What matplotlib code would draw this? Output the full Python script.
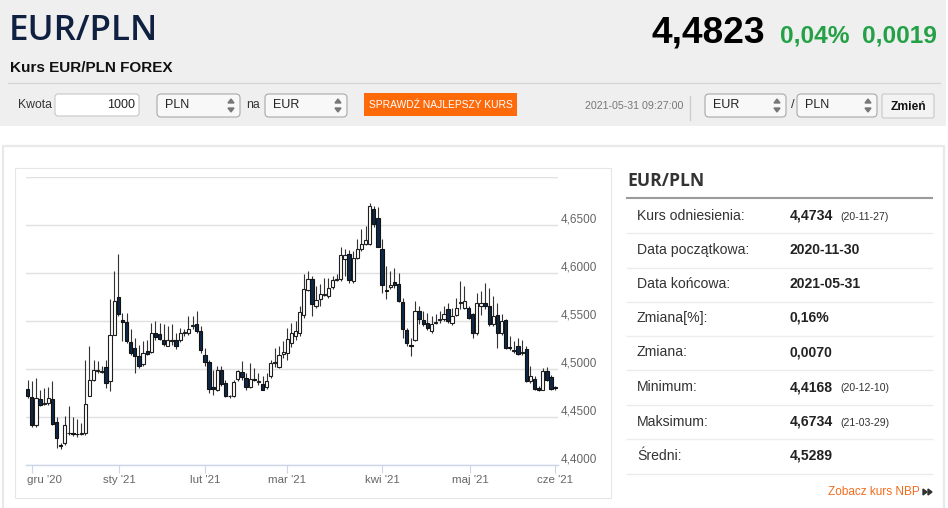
import matplotlib
matplotlib.use("Agg")
import matplotlib.pyplot as plt
import numpy as np
import pandas as pd
from matplotlib.patches import FancyBboxPatch, Rectangle, Polygon
from matplotlib.transforms import offset_copy

plt.rcParams['font.family'] = ['Liberation Sans', 'DejaVu Sans']

# ---- data -------------------------------------------------------------
holidays = ['2020-12-25', '2021-01-01']
days = pd.bdate_range('2020-11-30', '2021-05-31')
days = days[~days.isin(pd.to_datetime(holidays))]

opens = [
    4.4791, 4.4707, 4.4418, 4.4690, 4.4637, 4.4644, 4.4690, 4.4453, 4.4209, 4.4226,
    4.4331, 4.4331, 4.4324, 4.4324, 4.4331, 4.4721, 4.4882, 4.4976, 4.4972, 4.5021,
    4.4871, 4.5359, 4.5750, 4.5509, 4.5492, 4.5279, 4.5220, 4.5133, 4.5052, 4.5185,
    4.5174, 4.5377, 4.5366, 4.5307, 4.5244, 4.5290, 4.5297, 4.5307, 4.5370, 4.5377,
    4.5447, 4.5464, 4.5394, 4.5150, 4.5070, 4.4812, 4.4784, 4.4986, 4.4854, 4.4714,
    4.4721, 4.4896, 4.4969, 4.4906, 4.4812, 4.4899, 4.4861, 4.4847, 4.4808, 4.4924,
    4.5063, 4.5021, 4.5161, 4.5167, 4.5272, 4.5342, 4.5377, 4.5558, 4.5823, 4.5942,
    4.5656, 4.5725, 4.5771, 4.5760, 4.5854, 4.5928, 4.5935, 4.6144, 4.6196, 4.5917,
    4.6154, 4.6255, 4.6301, 4.6301, 4.6667, 4.6569, 4.6255, 4.5823, 4.5858, 4.5907,
    4.5882, 4.5698, 4.5405, 4.5255, 4.5307, 4.5603, 4.5506, 4.5481, 4.5394, 4.5474,
    4.5506, 4.5516, 4.5621, 4.5481, 4.5558, 4.5684, 4.5638, 4.5638, 4.5569, 4.5377,
    4.5656, 4.5691, 4.5656, 4.5464, 4.5558, 4.5377, 4.5506, 4.5227, 4.5192, 4.5237,
    4.5167, 4.5209, 4.4871, 4.4896, 4.4801, 4.4784, 4.4976, 4.4916, 4.4808]
highs = [
    4.4889, 4.4871, 4.4906, 4.4784, 4.4801, 4.4808, 4.4871, 4.4505, 4.4226, 4.4512,
    4.4610, 4.4505, 4.4477, 4.4435, 4.5098, 4.5237, 4.5098, 4.5080, 4.5028, 4.5098,
    4.5725, 4.6022, 4.6196, 4.5586, 4.5586, 4.5412, 4.5324, 4.5255, 4.5290, 4.5307,
    4.5481, 4.5499, 4.5481, 4.5464, 4.5447, 4.5464, 4.5377, 4.5429, 4.5412, 4.5551,
    4.5551, 4.5603, 4.5447, 4.5220, 4.5098, 4.4993, 4.5028, 4.5028, 4.4889, 4.4732,
    4.4889, 4.4993, 4.5080, 4.4958, 4.5063, 4.5011, 4.4958, 4.4924, 4.4958, 4.5098,
    4.5220, 4.5237, 4.5290, 4.5429, 4.5481, 4.5499, 4.5656, 4.5987, 4.6022, 4.5970,
    4.5865, 4.5882, 4.5952, 4.5952, 4.5970, 4.5987, 4.6266, 4.6248, 4.6242, 4.6231,
    4.6353, 4.6458, 4.6493, 4.6734, 4.6702, 4.6684, 4.6353, 4.6074, 4.6022, 4.6057,
    4.6004, 4.5743, 4.5429, 4.5324, 4.5708, 4.5656, 4.5603, 4.5586, 4.5551, 4.5569,
    4.5603, 4.5656, 4.5691, 4.5638, 4.5743, 4.5917, 4.5865, 4.5656, 4.5586, 4.5795,
    4.5813, 4.5900, 4.5847, 4.5760, 4.5691, 4.5569, 4.5516, 4.5342, 4.5290, 4.5324,
    4.5307, 4.5237, 4.5028, 4.4924, 4.4819, 4.5011, 4.5021, 4.4941, 4.4826]
lows = [
    4.4697, 4.4400, 4.4400, 4.4610, 4.4627, 4.4627, 4.4418, 4.4174, 4.4168, 4.4209,
    4.4313, 4.4303, 4.4296, 4.4313, 4.4313, 4.4714, 4.4871, 4.4958, 4.4958, 4.4801,
    4.4766, 4.5349, 4.5551, 4.5290, 4.5272, 4.5150, 4.4958, 4.5011, 4.5035, 4.5150,
    4.5167, 4.5307, 4.5307, 4.5244, 4.5237, 4.5255, 4.5209, 4.5279, 4.5342, 4.5359,
    4.5412, 4.5377, 4.5167, 4.5028, 4.4749, 4.4732, 4.4766, 4.4819, 4.4707, 4.4697,
    4.4707, 4.4871, 4.4889, 4.4784, 4.4801, 4.4871, 4.4836, 4.4777, 4.4791, 4.4906,
    4.5021, 4.5011, 4.5115, 4.5098, 4.5227, 4.5307, 4.5342, 4.5534, 4.5813, 4.5551,
    4.5638, 4.5656, 4.5760, 4.5743, 4.5830, 4.5917, 4.5917, 4.5970, 4.5900, 4.5900,
    4.6144, 4.6231, 4.6290, 4.6290, 4.6475, 4.6266, 4.5788, 4.5725, 4.5830, 4.5847,
    4.5698, 4.5324, 4.5244, 4.5133, 4.5290, 4.5471, 4.5447, 4.5405, 4.5370, 4.5464,
    4.5481, 4.5499, 4.5481, 4.5457, 4.5551, 4.5621, 4.5621, 4.5516, 4.5324, 4.5359,
    4.5558, 4.5621, 4.5447, 4.5447, 4.5220, 4.5359, 4.5209, 4.5202, 4.5167, 4.5150,
    4.5150, 4.4861, 4.4854, 4.4784, 4.4774, 4.4777, 4.4871, 4.4784, 4.4784]
closes = [
    4.4714, 4.4418, 4.4697, 4.4627, 4.4651, 4.4697, 4.4425, 4.4278, 4.4198, 4.4418,
    4.4338, 4.4328, 4.4320, 4.4338, 4.4634, 4.4889, 4.4986, 4.4986, 4.4976, 4.4854,
    4.5359, 4.5708, 4.5569, 4.5492, 4.5290, 4.5167, 4.5133, 4.5028, 4.5167, 4.5161,
    4.5377, 4.5331, 4.5317, 4.5262, 4.5307, 4.5307, 4.5244, 4.5377, 4.5384, 4.5412,
    4.5457, 4.5394, 4.5195, 4.5070, 4.4791, 4.4791, 4.4986, 4.4847, 4.4714, 4.4721,
    4.4864, 4.4976, 4.4916, 4.4808, 4.4899, 4.4889, 4.4871, 4.4784, 4.4871, 4.5063,
    4.5073, 4.5150, 4.5174, 4.5314, 4.5377, 4.5394, 4.5593, 4.5830, 4.5942, 4.5673,
    4.5718, 4.5778, 4.5785, 4.5847, 4.5924, 4.5935, 4.6189, 4.6186, 4.5928, 4.6154,
    4.6255, 4.6301, 4.6343, 4.6702, 4.6510, 4.6276, 4.5872, 4.5813, 4.5875, 4.5872,
    4.5708, 4.5419, 4.5272, 4.5237, 4.5603, 4.5516, 4.5471, 4.5429, 4.5471, 4.5488,
    4.5523, 4.5569, 4.5499, 4.5551, 4.5638, 4.5698, 4.5708, 4.5534, 4.5377, 4.5691,
    4.5691, 4.5656, 4.5471, 4.5551, 4.5377, 4.5499, 4.5220, 4.5216, 4.5199, 4.5161,
    4.5174, 4.4871, 4.4924, 4.4791, 4.4784, 4.4976, 4.4889, 4.4791, 4.4804]

month_ticks = ['2020-12-01', '2021-01-01', '2021-02-01', '2021-03-01',
               '2021-04-01', '2021-05-01', '2021-06-01']
month_labels = ["gru '20", "sty '21", "lut '21", "mar '21", "kwi '21", "maj '21", "cze '21"]
y_ticks = [4.40, 4.45, 4.50, 4.55, 4.60, 4.65, 4.70]

summary_labels = ['Kurs odniesienia:', 'Data początkowa:', 'Data końcowa:', 'Zmiana[%]:',
                  'Zmiana:', 'Minimum:', 'Maksimum:', 'Średni:']
summary_values = ['4,4734', '2020-11-30', '2021-05-31', '0,16%', '0,0070',
                  '4,4168', '4,6734', '4,5289']
summary_dates = ['(20-11-27)', '', '', '', '', '(20-12-10)', '(21-03-29)', '']

# ---- page ---------------------------------------------------------------
W, H = 948, 508
fig = plt.figure(figsize=(W / 100, H / 100), dpi=100)
page = fig.add_axes([0, 0, 1, 1])
page.set_xlim(0, W)
page.set_ylim(H, 0)
page.axis('off')

def fs(px):  # pixel height -> points
    return px * 0.72

def rbox(x0, y0, x1, y1, fc, ec, r=3, lw=0.8):
    page.add_patch(FancyBboxPatch((x0, y0), x1 - x0, y1 - y0,
                                  boxstyle=f"round,pad=0,rounding_size={r}",
                                  fc=fc, ec=ec, lw=lw))

def select(x0, x1, label):
    rbox(x0, 94, x1, 117, '#f8f8f8', '#a8a8a8', r=4)
    page.text(x0 + 8, 105.5, label, fontsize=fs(12.5), color='#222', va='center')
    ax_ = x1 - 9
    page.add_patch(Polygon([[ax_ - 3, 103], [ax_ + 3, 103], [ax_, 99]], color='#777'))
    page.add_patch(Polygon([[ax_ - 3, 108], [ax_ + 3, 108], [ax_, 112]], color='#777'))

# header band
page.add_patch(Rectangle((0, 0), 946, 126, fc='#efefef', ec='none'))
page.text(9, 31, 'EUR/PLN', fontsize=fs(35), color='#0f2041', va='center',
          weight='semibold', family=['Open Sans', 'DejaVu Sans'])
page.text(765, 33, '4,4823', fontsize=fs(37), color='#000', weight='bold',
          va='center', ha='right')
page.text(780, 36, '0,04%', fontsize=fs(24.5), color='#24a146', weight='bold', va='center')
page.text(937, 36, '0,0019', fontsize=fs(24.5), color='#24a146', weight='bold',
          va='center', ha='right')
page.text(10, 68, 'Kurs EUR/PLN FOREX', fontsize=fs(15.3), color='#111', weight='bold',
          va='center')
page.plot([8, 940], [83, 83], color='#d6d6d6', lw=1)

page.text(18, 105.5, 'Kwota', fontsize=fs(12.2), color='#333', va='center')
rbox(55, 94, 139, 116, '#ffffff', '#c8c8c8', r=3)
page.text(135, 105.5, '1000', fontsize=fs(12.5), color='#222', va='center', ha='right')
select(157, 240, 'PLN')
page.text(246, 105.5, 'na', fontsize=fs(12.2), color='#333', va='center')
select(265, 347, 'EUR')
page.add_patch(Rectangle((364, 93), 153, 23, fc='#fe6a0a', ec='none'))
page.text(441, 104.5, 'SPRAWDŹ NAJLEPSZY KURS', fontsize=fs(10.2), color='white',
          va='center', ha='center')
page.text(683, 106, '2021-05-31 09:27:00', fontsize=fs(10.6), color='#777',
          va='center', ha='right')
page.plot([690, 690], [96, 120], color='#cfcfcf', lw=1)
select(705, 786, 'EUR')
page.text(791, 105.5, '/', fontsize=fs(13), color='#333', va='center')
select(797, 877, 'PLN')
rbox(882, 94, 934, 118, '#f3f3f3', '#c8c8c8', r=2)
page.text(908, 106.5, 'Zmień', fontsize=fs(12), color='#111', weight='bold',
          va='center', ha='center')

# lower panel frames
page.add_patch(Rectangle((3, 146), 941, 370, fc='white', ec='#e9e9e9', lw=1.6))
page.add_patch(Rectangle((15, 168), 596, 330, fc='white', ec='#e6e6e6', lw=0.8))

# summary table
page.text(627, 181, 'EUR/PLN', fontsize=fs(17.5), color='#333', weight='bold',
          va='center', family=['Open Sans', 'DejaVu Sans'])
page.plot([627, 932], [197.5, 197.5], color='#9a9a9a', lw=1.5)
row_y = [215.5, 250, 284, 318, 352.5, 387, 421.5, 456]
for i, (lab, val, dt) in enumerate(zip(summary_labels, summary_values, summary_dates)):
    y = row_y[i]
    page.text(637, y, lab, fontsize=fs(14), color='#333', va='center')
    page.text(790, y, val, fontsize=fs(14), color='#222', weight='bold', va='center')
    if dt:
        page.text(840, y + 1, dt, fontsize=fs(10.5), color='#333', va='center')
    page.plot([627, 932], [y + 17.5, y + 17.5], color='#ececec', lw=1)
page.text(920, 492, 'Zobacz kurs NBP', fontsize=fs(11.8), color='#f26b1d', va='center',
          ha='right')
page.add_patch(Polygon([[923, 489], [923, 495], [927, 492]], color='#333'))
page.add_patch(Polygon([[928, 489], [928, 495], [932, 492]], color='#333'))

# ---- candlestick chart ----------------------------------------------------
ax = fig.add_axes([26 / W, 1 - 465 / H, (558 - 26) / W, (465 - 177) / H])
ax.set_facecolor('none')
idx = np.arange(len(days))
o = np.array(opens)
h = np.array(highs)
l = np.array(lows)
c = np.array(closes)
up = c >= o

ax.vlines(idx, l, h, color='#333333', lw=0.8, zorder=2)
body_lo = np.minimum(o, c)
body_h = np.maximum(np.abs(c - o), 0.0004)
ax.bar(idx[up], body_h[up], bottom=body_lo[up], width=0.8, color='white',
       edgecolor='#1e1e1e', linewidth=0.8, zorder=3)
ax.bar(idx[~up], body_h[~up], bottom=body_lo[~up], width=0.8, color='#0d2847',
       edgecolor='#111', linewidth=0.8, zorder=3)

x_lo, x_hi = -0.41, 128.7
ax.set_xlim(x_lo, x_hi)
ax.set_ylim(4.40, 4.70)
ax.set_yticks(y_ticks)
ax.yaxis.set_tick_params(length=0, labelleft=False)
ax.grid(axis='y', color='#e0e0e0', lw=1)
ax.set_axisbelow(True)
for s in ['top', 'right', 'left']:
    ax.spines[s].set_visible(False)
ax.spines['bottom'].set_color('#ccd6eb')
ax.spines['bottom'].set_linewidth(1)

tick_pos = np.interp(pd.to_datetime(month_ticks).asi8, days.asi8, idx)
ax.set_xticks(tick_pos)
ax.set_xticklabels([])
ax.tick_params(axis='x', length=5.8, width=0.8, color='#ccd6eb')
lab_x = offset_copy(ax.get_xaxis_transform(), fig=fig, x=0, y=-15, units='dots')
for i, (p, lab) in enumerate(zip(tick_pos, month_labels)):
    # the first label is pushed right so it stays inside the plot
    ax.text(x_lo + 0.2 if i == 0 else p, 0, lab, transform=lab_x,
            ha='left' if i == 0 else 'center', va='center', fontsize=fs(11.5),
            color='#666', clip_on=False)

lab_tr = offset_copy(ax.get_yaxis_transform(), fig=fig, x=3, y=6, units='dots')
for v in y_ticks[:-1]:
    ax.text(1.0, v, f'{v:.4f}'.replace('.', ','), transform=lab_tr, fontsize=fs(11.8),
            color='#666', va='center', ha='left', clip_on=False)

fig.savefig('out.png', dpi=100)
